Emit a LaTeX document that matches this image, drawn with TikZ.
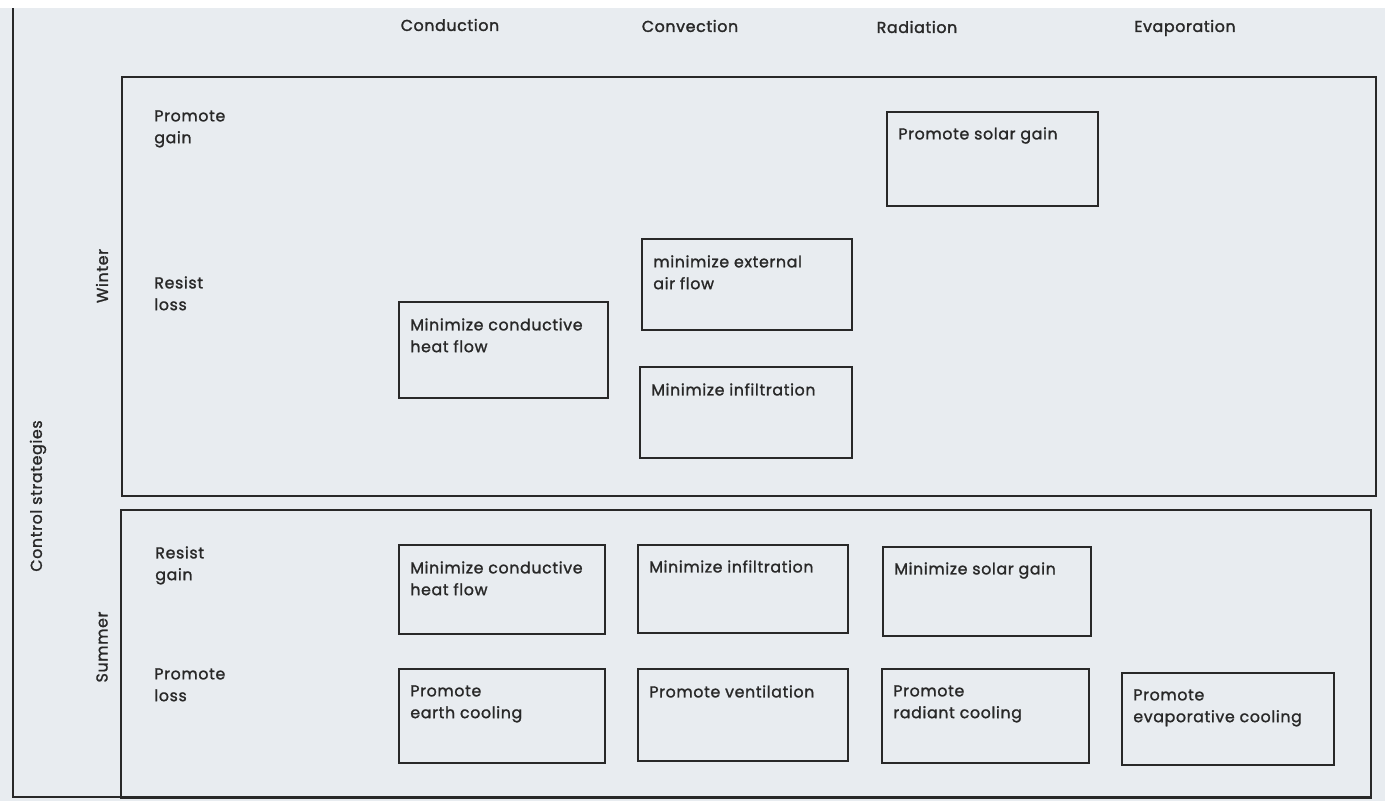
\documentclass[tikz,border=0pt]{standalone}
\usepackage{fontspec}
\setmainfont{Poppins}
\newfontfamily\dfont{Poppins}[LetterSpace=4,FakeBold=1.4]
\newfontfamily\hfont{Poppins}[LetterSpace=4,FakeBold=1.8]
\definecolor{paper}{RGB}{232,236,240}
\definecolor{ink}{RGB}{40,40,40}
\begin{document}
\begin{tikzpicture}[x=0.02cm,y=-0.02cm,
  frame/.style={draw=ink,line width=1.2pt},
  cell/.style={draw=ink,line width=1.2pt,anchor=north west,inner sep=0pt},
  celltext/.style={anchor=north west,inner sep=0pt,align=left,text=ink,
    font=\dfont\fontsize{9}{12.4}\selectfont},
  rowlabel/.style={anchor=north west,inner sep=0pt,align=left,text=ink,
    font=\dfont\fontsize{9}{12.4}\selectfont},
  colhead/.style={inner sep=0pt,text=ink,font=\hfont\fontsize{9}{10}\selectfont},
  sidelabel/.style={inner sep=0pt,text=ink,rotate=90,font=\dfont\fontsize{9}{10}\selectfont}]
% page and paper
\useasboundingbox (0,0) rectangle (1385,801);
\fill[white] (0,0) rectangle (1385,801);
\fill[paper] (0,8) rectangle (1385,801);

% outer frame and the two season panels
\coordinate (otl) at (13,8);
\coordinate (obl) at (13,797);
\coordinate (obr) at (1370,797);
\draw[frame] (otl) -- (obl) -- (obr);
\node[cell,minimum width=1254*0.02cm,minimum height=419*0.02cm] (winter) at (121,76) {};
\node[cell,minimum width=1250*0.02cm,minimum height=288*0.02cm] (summer) at (120,509) {};

% column headings
\node[colhead] (hcond) at (450,25) {Conduction};
\node[colhead] (hconv) at (690,26) {Convection};
\node[colhead] (hrad)  at (917,27) {Radiation};
\node[colhead] (hevap) at (1185,28) {Evaporation};

% side labels
\node[sidelabel] (ctrl) at (38,496) {Control strategies};
\node[sidelabel] (lwin) at (102,276) {Winter};
\node[sidelabel] (lsum) at (102,647) {Summer};

% row labels
\node[rowlabel] (rpg) at (154,110) {Promote\\gain};
\node[rowlabel] (rrl) at (154,276) {Resist\\loss};
\node[rowlabel] (rrg) at (155,546) {Resist\\gain};
\node[rowlabel] (rpl) at (154,668) {Promote\\loss};

% winter cells
\node[cell,minimum width=211*0.02cm,minimum height=94*0.02cm] (wsol) at (886,111) {};
\node[celltext] (tsol) at ([shift={(12,16)}]wsol.north west) {Promote solar gain};
\node[cell,minimum width=210*0.02cm,minimum height=91*0.02cm] (wext) at (641,238) {};
\node[celltext] (text) at ([shift={(12,17)}]wext.north west) {minimize external\\air flow};
\node[cell,minimum width=209*0.02cm,minimum height=96*0.02cm] (wcon) at (398,301) {};
\node[celltext] (tcon) at ([shift={(12,17)}]wcon.north west) {Minimize conductive\\heat flow};
\node[cell,minimum width=212*0.02cm,minimum height=91*0.02cm] (winf) at (639,366) {};
\node[celltext] (tinf) at ([shift={(12,17)}]winf.north west) {Minimize infiltration};

% summer cells, resist gain
\node[cell,minimum width=206*0.02cm,minimum height=89*0.02cm] (scon) at (398,544) {};
\node[celltext] (tscon) at ([shift={(12,17)}]scon.north west) {Minimize conductive\\heat flow};
\node[cell,minimum width=210*0.02cm,minimum height=88*0.02cm] (sinf) at (637,544) {};
\node[celltext] (tsinf) at ([shift={(12,16)}]sinf.north west) {Minimize infiltration};
\node[cell,minimum width=208*0.02cm,minimum height=89*0.02cm] (ssol) at (882,546) {};
\node[celltext] (tssol) at ([shift={(12,16)}]ssol.north west) {Minimize solar gain};

% summer cells, promote loss
\node[cell,minimum width=206*0.02cm,minimum height=94*0.02cm] (searth) at (398,668) {};
\node[celltext] (tearth) at ([shift={(12,17)}]searth.north west) {Promote\\earth cooling};
\node[cell,minimum width=210*0.02cm,minimum height=92*0.02cm] (svent) at (637,668) {};
\node[celltext] (tvent) at ([shift={(12,17)}]svent.north west) {Promote ventilation};
\node[cell,minimum width=207*0.02cm,minimum height=94*0.02cm] (srad) at (881,668) {};
\node[celltext] (trad) at ([shift={(12,17)}]srad.north west) {Promote\\radiant cooling};
\node[cell,minimum width=212*0.02cm,minimum height=92*0.02cm] (sevap) at (1121,672) {};
\node[celltext] (tevap) at ([shift={(12,17)}]sevap.north west) {Promote\\evaporative cooling};
\end{tikzpicture}
\end{document}
